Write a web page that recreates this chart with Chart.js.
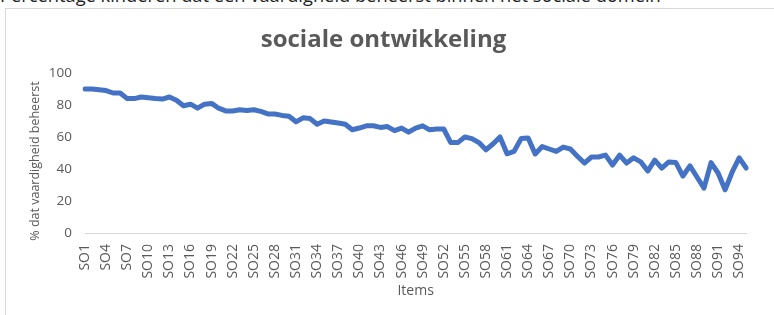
<!DOCTYPE html>
<html>
<head>
<meta charset="utf-8">
<script src="https://cdn.jsdelivr.net/npm/chart.js@4.4.0/dist/chart.umd.min.js"></script>
<style>
  html, body { margin: 0; padding: 0; background: #fff; overflow: hidden; }
  body { width: 774px; height: 315px; position: relative; font-family: "Open Sans", sans-serif; }
  #caption { position: absolute; left: 0; top: -15px; font-size: 18.3px; line-height: 20px; color: #222; white-space: nowrap; }
  #box { position: absolute; left: 5px; top: 8px; width: 800px; height: 340px; border: 1px solid #d9d9d9; box-sizing: border-box; }
  #wrap { position: absolute; left: 0; top: 0; width: 774px; height: 315px; }
</style>
</head>
<body>
<div id="caption">Percentage kinderen dat een vaardigheid beheerst binnen het sociale domein</div>
<div id="box"></div>
<div id="wrap"><canvas id="c"></canvas></div>
<script>
// Categories SO1..SO95
const categories = ["SO1","SO2","SO3","SO4","SO5","SO6","SO7","SO8","SO9","SO10",
  "SO11","SO12","SO13","SO14","SO15","SO16","SO17","SO18","SO19","SO20",
  "SO21","SO22","SO23","SO24","SO25","SO26","SO27","SO28","SO29","SO30",
  "SO31","SO32","SO33","SO34","SO35","SO36","SO37","SO38","SO39","SO40",
  "SO41","SO42","SO43","SO44","SO45","SO46","SO47","SO48","SO49","SO50",
  "SO51","SO52","SO53","SO54","SO55","SO56","SO57","SO58","SO59","SO60",
  "SO61","SO62","SO63","SO64","SO65","SO66","SO67","SO68","SO69","SO70",
  "SO71","SO72","SO73","SO74","SO75","SO76","SO77","SO78","SO79","SO80",
  "SO81","SO82","SO83","SO84","SO85","SO86","SO87","SO88","SO89","SO90",
  "SO91","SO92","SO93","SO94","SO95"];

// % dat vaardigheid beheerst
const percentages = [
  90, 90, 89.5, 89, 87.5, 87.5, 84, 84, 85, 84.5,
  84, 83.7, 85, 83, 79.5, 80.5, 78, 80.5, 81, 78,
  76.3, 76.3, 77, 76.5, 77, 76, 74.4, 74.4, 73.5, 73,
  69.5, 72, 71.5, 68, 70, 69.4, 68.7, 68, 64.5, 65.6,
  67, 67, 66, 66.5, 64, 65.6, 63, 65.6, 67, 64.5,
  65, 65, 56.5, 56.5, 60, 59, 56.5, 52, 55.6, 60,
  49.5, 51, 59, 59.4, 49.4, 54, 52.5, 51, 53.7, 52.5,
  48, 43.7, 47.5, 47.5, 48.7, 42.5, 48.7, 43.7, 47, 44.5,
  38.7, 45.6, 40.6, 44.4, 44, 35.6, 42, 35, 28, 44,
  37.5, 27, 38, 47, 40.6];

const yTicks = [0, 20, 40, 60, 80, 100];

const chartTitle = "sociale ontwikkeling";
const yTitle = "% dat vaardigheid beheerst";
const xTitle = "Items";

const grey = "#595959";

// Draws the y-axis title slightly below the axis centre, as in the original
const yTitlePlugin = {
  id: "yTitlePlugin",
  afterDraw(chart) {
    const ctx = chart.ctx;
    const area = chart.chartArea;
    ctx.save();
    ctx.translate(area.left - 50, (area.top + area.bottom) / 2 + 8);
    ctx.rotate(-Math.PI / 2);
    ctx.fillStyle = grey;
    ctx.font = "12.5px 'Open Sans'";
    ctx.textAlign = "center";
    ctx.textBaseline = "middle";
    ctx.fillText(yTitle, 0, 0);
    ctx.restore();
  }
};

new Chart(document.getElementById("c"), {
  type: "line",
  data: {
    labels: categories,
    datasets: [{
      label: "% dat vaardigheid beheerst",
      data: percentages,
      borderColor: "#4472C4",
      backgroundColor: "#4472C4",
      borderWidth: 5,
      pointRadius: 0,
      pointHoverRadius: 0,
      tension: 0,
      borderJoinStyle: "round",
      borderCapStyle: "round",
      fill: false
    }]
  },
  plugins: [yTitlePlugin],
  options: {
    responsive: true,
    maintainAspectRatio: false,
    animation: false,
    events: [],
    layout: { padding: { top: 0, right: 7, bottom: 0, left: 0 } },
    plugins: {
      legend: { display: false },
      tooltip: { enabled: false },
      title: {
        display: true,
        text: chartTitle,
        color: grey,
        font: { family: "Open Sans", size: 24, weight: "bold" },
        padding: { top: 25.6, bottom: 18.6 }
      }
    },
    scales: {
      x: {
        offset: false,
        grid: { display: false, drawTicks: false },
        border: { display: true, color: "#d9d9d9", width: 1 },
        ticks: {
          autoSkip: false,
          maxRotation: 90,
          minRotation: 90,
          padding: 11,
          color: grey,
          font: { family: "Open Sans", size: 14 },
          callback: function(v, i) { return i % 3 === 0 ? categories[i] : ""; }
        },
        title: {
          display: true,
          text: xTitle,
          color: grey,
          font: { family: "Open Sans", size: 14 },
          padding: { top: 0, bottom: 16 }
        },
        afterFit: function(s) { s.height = 82; }
      },
      y: {
        min: 0,
        max: 100,
        afterBuildTicks: function(s) { s.ticks = yTicks.map(v => ({ value: v })); },
        grid: { display: false, drawTicks: false },
        border: { display: false },
        ticks: {
          padding: 13,
          color: grey,
          font: { family: "Open Sans", size: 13.5 }
        },
        title: { display: false },
        afterFit: function(s) { s.width = 85; }
      }
    }
  }
});
</script>
</body>
</html>
